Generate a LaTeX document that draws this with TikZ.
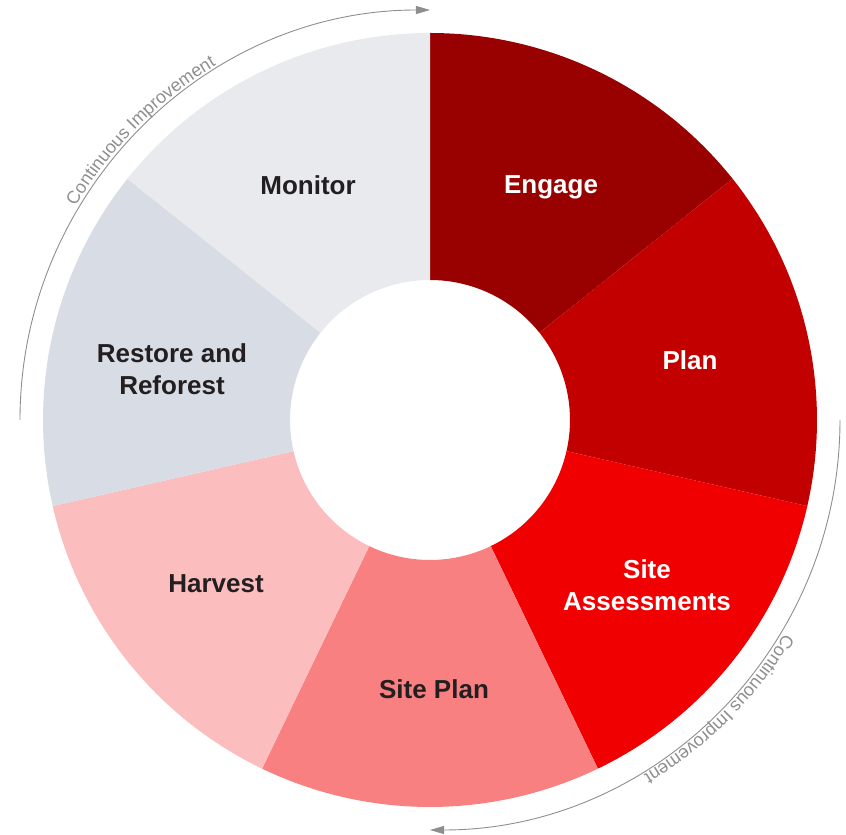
\documentclass[tikz,border=0pt]{standalone}
\usepackage{fontspec}
\setmainfont{Liberation Sans}
\usetikzlibrary{arrows.meta,decorations.text}

\definecolor{engagered}{HTML}{990000}
\definecolor{planred}{HTML}{C30000}
\definecolor{assessred}{HTML}{F00000}
\definecolor{siteplanred}{HTML}{F88080}
\definecolor{harvestpink}{HTML}{FBBDBD}
\definecolor{restoregray}{HTML}{D8DCE4}
\definecolor{monitorgray}{HTML}{E9EAEE}
\definecolor{labeldark}{HTML}{231F20}
\definecolor{loopgray}{HTML}{8E8E8E}

\begin{document}
\begin{tikzpicture}[scale=.0351459,
		every node/.style={align=center,font=\bfseries\fontsize{26}{32}\selectfont},
		onlight/.style={text=labeldark},
		ondark/.style={text=white},
		loop/.style={draw=loopgray,line width=.9pt,-{Triangle[length=14pt,width=8pt]}},
		looptext/.style={decorate,decoration={text along path,text align=center,
			text={|\fontsize{18}{18}\selectfont\color{loopgray}|Continuous Improvement}}}]
	\useasboundingbox (-430,-415) rectangle (416,420);

	% the seven wedges of the ring, clockwise from the top
	\fill[engagered] (90:140) arc[start angle=90,end angle=38.571,radius=140]
		-- (38.571:387) arc[start angle=38.571,end angle=90,radius=387] -- cycle;
	\fill[planred] (38.571:140) arc[start angle=38.571,end angle=-12.857,radius=140]
		-- (-12.857:387) arc[start angle=-12.857,end angle=38.571,radius=387] -- cycle;
	\fill[assessred] (-12.857:140) arc[start angle=-12.857,end angle=-64.286,radius=140]
		-- (-64.286:387) arc[start angle=-64.286,end angle=-12.857,radius=387] -- cycle;
	\fill[siteplanred] (-64.286:140) arc[start angle=-64.286,end angle=-115.714,radius=140]
		-- (-115.714:387) arc[start angle=-115.714,end angle=-64.286,radius=387] -- cycle;
	\fill[harvestpink] (-115.714:140) arc[start angle=-115.714,end angle=-167.143,radius=140]
		-- (-167.143:387) arc[start angle=-167.143,end angle=-115.714,radius=387] -- cycle;
	\fill[restoregray] (-167.143:140) arc[start angle=-167.143,end angle=-218.571,radius=140]
		-- (-218.571:387) arc[start angle=-218.571,end angle=-167.143,radius=387] -- cycle;
	\fill[monitorgray] (-218.571:140) arc[start angle=-218.571,end angle=-270,radius=140]
		-- (-270:387) arc[start angle=-270,end angle=-218.571,radius=387] -- cycle;

	% stage labels
	\node[ondark] (engage) at (121,233) {Engage};
	\node[ondark] (plan) at (260,60) {Plan};
	\node[ondark] (assess) at (217,-165) {Site\\Assessments};
	\node[onlight] (siteplan) at (4,-269) {Site Plan};
	\node[onlight] (harvest) at (-214,-164) {Harvest};
	\node[onlight] (restore) at (-258,51) {Restore and\\Reforest};
	\node[onlight] (monitor) at (-122,235) {Monitor};

	% continuous improvement loops
	\draw[loop] (180:410) arc[start angle=180,end angle=90,radius=410];
	\draw[loop] (0:410) arc[start angle=0,end angle=-90,radius=410];
	\path[looptext] (170:414) arc[start angle=170,end angle=100,radius=414];
	\path[looptext] (-10:414) arc[start angle=-10,end angle=-80,radius=414];
\end{tikzpicture}
\end{document}
